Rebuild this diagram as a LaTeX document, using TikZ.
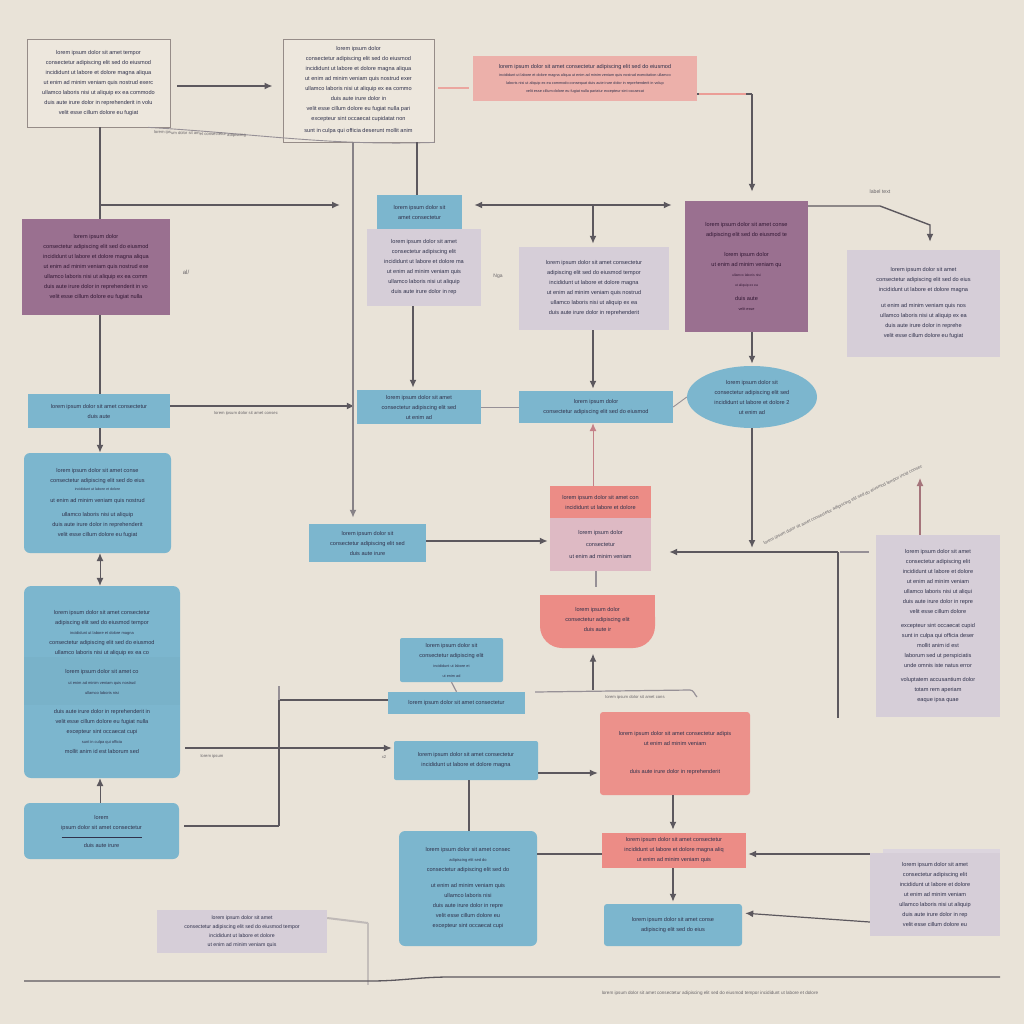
\documentclass[tikz,border=0pt]{standalone}
\usepackage{fontspec}
\setmainfont{Liberation Sans}
\usetikzlibrary{arrows.meta,shapes.geometric}
\definecolor{bgc}{RGB}{233,227,216}
\definecolor{bluec}{RGB}{124,182,206}
\definecolor{mauvec}{RGB}{154,112,144}
\definecolor{lavc}{RGB}{214,206,216}
\definecolor{pinkc}{RGB}{236,176,170}
\definecolor{salc}{RGB}{236,140,134}
\definecolor{paperc}{RGB}{237,231,221}
\definecolor{bordc}{RGB}{150,140,136}
\definecolor{txtc}{RGB}{48,50,76}
\definecolor{linec}{RGB}{92,88,94}
\definecolor{lightl}{RGB}{150,144,150}
\definecolor{redl}{RGB}{196,128,136}
\tikzset{
  box/.style={inner sep=2pt, align=center, text=txtc, font=\fontsize{5.6}{10}\selectfont},
  paperbox/.style={box, fill=paperc, draw=bordc, line width=0.8pt},
  bluebox/.style={box, fill=bluec},
  rbluebox/.style={box, fill=bluec, rounded corners=6pt},
  mauvebox/.style={box, fill=mauvec, text={rgb,255:red,50;green,24;blue,52}},
  lavbox/.style={box, fill=lavc},
  pinkbox/.style={box, fill=pinkc},
  salbox/.style={box, fill=salc},
  conn/.style={draw=linec, line width=1.6pt},
  thinl/.style={draw=lightl, line width=0.9pt},
  arr/.style={conn, -{Latex[length=8pt,width=7pt]}},
  darr/.style={conn, {Latex[length=8pt,width=7pt]}-{Latex[length=8pt,width=7pt]}},
  lbl/.style={inner sep=0pt, text=lightl!70!black, font=\fontsize{4.2}{6}\selectfont},
}
\begin{document}
\begin{tikzpicture}[x=1pt,y=-1pt]
\fill[bgc] (0,0) rectangle (1024,1024);
\useasboundingbox (0,0) rectangle (1024,1024);

% ---------- nodes ----------
\node[paperbox, minimum width=143, minimum height=88] (A) at (98.5,83)
 {lorem ipsum dolor sit amet tempor\\consectetur adipiscing elit sed do eiusmod\\incididunt ut labore et dolore magna aliqua\\ut enim ad minim veniam quis nostrud exerc\\ullamco laboris nisi ut aliquip ex ea commodo\\duis aute irure dolor in reprehenderit in volu\\velit esse cillum dolore eu fugiat};
\node[paperbox, minimum width=151, minimum height=103] (B) at (358.5,90.5)
 {lorem ipsum dolor\\consectetur adipiscing elit sed do eiusmod\\incididunt ut labore et dolore magna aliqua\\ut enim ad minim veniam quis nostrud exer\\ullamco laboris nisi ut aliquip ex ea commo\\duis aute irure dolor in\\velit esse cillum dolore eu fugiat nulla pari\\excepteur sint occaecat cupidatat non\\[2pt]sunt in culpa qui officia deserunt mollit anim};
\node[pinkbox, minimum width=224, minimum height=45] (C) at (585,78.5)
 {lorem ipsum dolor sit amet consectetur adipiscing elit sed do eiusmod\\[-2pt]{\fontsize{3.8}{6}\selectfont incididunt ut labore et dolore magna aliqua ut enim ad minim veniam quis nostrud exercitation ullamco}\\[-2pt]{\fontsize{3.8}{6}\selectfont laboris nisi ut aliquip ex ea commodo consequat duis aute irure dolor in reprehenderit in volup}\\[-2pt]{\fontsize{3.8}{6}\selectfont velit esse cillum dolore eu fugiat nulla pariatur excepteur sint occaecat}};
\node[mauvebox, minimum width=148, minimum height=96] (D) at (96,267)
 {lorem ipsum dolor\\consectetur adipiscing elit sed do eiusmod\\incididunt ut labore et dolore magna aliqua\\ut enim ad minim veniam quis nostrud exe\\ullamco laboris nisi ut aliquip ex ea comm\\duis aute irure dolor in reprehenderit in vo\\velit esse cillum dolore eu fugiat nulla};
\node[lavbox, minimum width=114, minimum height=77] (E2) at (424,267.5)
 {lorem ipsum dolor sit amet\\consectetur adipiscing elit\\incididunt ut labore et dolore ma\\ut enim ad minim veniam quis\\ullamco laboris nisi ut aliquip\\duis aute irure dolor in rep};
\node[bluebox, minimum width=85, minimum height=34] (E1) at (419.5,212)
 {lorem ipsum dolor sit\\amet consectetur};
\node[lavbox, minimum width=150, minimum height=83] (F) at (594,288.5)
 {lorem ipsum dolor sit amet consectetur\\adipiscing elit sed do eiusmod tempor\\incididunt ut labore et dolore magna\\ut enim ad minim veniam quis nostrud\\ullamco laboris nisi ut aliquip ex ea\\duis aute irure dolor in reprehenderit};
\node[mauvebox, minimum width=123, minimum height=131] (G) at (746.5,266.5)
 {lorem ipsum dolor sit amet conse\\adipiscing elit sed do eiusmod te\\[10pt]lorem ipsum dolor\\ut enim ad minim veniam qu\\{\fontsize{3.4}{5}\selectfont ullamco laboris nisi}\\{\fontsize{3.4}{5}\selectfont ut aliquip ex ea}\\[4pt]duis aute\\{\fontsize{3.8}{6}\selectfont velit esse}};
\node[lavbox, minimum width=153, minimum height=107] (H) at (923.5,303.5)
 {lorem ipsum dolor sit amet\\consectetur adipiscing elit sed do eius\\incididunt ut labore et dolore magna\\[6pt]ut enim ad minim veniam quis nos\\ullamco laboris nisi ut aliquip ex ea\\duis aute irure dolor in reprehe\\velit esse cillum dolore eu fugiat};
\node[ellipse, box, fill=bluec, minimum width=130, minimum height=62, inner sep=0pt] (I) at (752,397)
 {lorem ipsum dolor sit\\consectetur adipiscing elit sed\\incididunt ut labore et dolore 2\\ut enim ad};
\node[bluebox, minimum width=142, minimum height=34] (J) at (99,411)
 {lorem ipsum dolor sit amet consectetur\\duis aute};
\node[bluebox, minimum width=124, minimum height=34] (K) at (419,407)
 {lorem ipsum dolor sit amet\\consectetur adipiscing elit sed\\ut enim ad};
\node[bluebox, minimum width=154, minimum height=32] (L) at (596,407)
 {lorem ipsum dolor\\consectetur adipiscing elit sed do eiusmod};
\node[rbluebox, minimum width=147, minimum height=100] (M) at (97.5,503)
 {lorem ipsum dolor sit amet conse\\consectetur adipiscing elit sed do eius\\[-2pt]{\fontsize{3.6}{5}\selectfont incididunt ut labore et dolore}\\[2pt]ut enim ad minim veniam quis nostrud\\[4pt]ullamco laboris nisi ut aliquip\\duis aute irure dolor in reprehenderit\\velit esse cillum dolore eu fugiat};
\node[bluebox, minimum width=117, minimum height=38] (N) at (367.5,543)
 {lorem ipsum dolor sit\\consectetur adipiscing elit sed\\duis aute irure};
% O (two parts)
\node[salbox, minimum width=101, minimum height=32] (Ot) at (600.5,502)
 {lorem ipsum dolor sit amet con\\incididunt ut labore et dolore};
\node[box, fill={rgb,255:red,222;green,186;blue,196}, minimum width=101, minimum height=53] (Ob) at (600.5,544.5)
 {lorem ipsum dolor\\[2pt]consectetur\\[2pt]ut enim ad minim veniam};
% P (rounded bottom)
\fill[salc, rounded corners=22pt] (540,595) rectangle (655,648);
\fill[salc] (540,595) rectangle (655,620);
\node[box, minimum width=115, minimum height=53] (P) at (597.5,619)
 {lorem ipsum dolor\\consectetur adipiscing elit\\duis aute ir};
\node[lavbox, minimum width=124, minimum height=182] (Q) at (938,626)
 {lorem ipsum dolor sit amet\\consectetur adipiscing elit\\incididunt ut labore et dolore\\ut enim ad minim veniam\\ullamco laboris nisi ut aliqui\\duis aute irure dolor in repre\\velit esse cillum dolore\\[4pt]excepteur sint occaecat cupid\\sunt in culpa qui officia deser\\mollit anim id est\\laborum sed ut perspiciatis\\unde omnis iste natus error\\[4pt]voluptatem accusantium dolor\\totam rem aperiam\\eaque ipsa quae};
\node[bluebox, rounded corners=2pt, minimum width=103, minimum height=44] (R) at (451.5,660)
 {lorem ipsum dolor sit\\consectetur adipiscing elit\\{\fontsize{3.8}{6}\selectfont incididunt ut labore et}\\{\fontsize{3.8}{6}\selectfont ut enim ad}};
\node[bluebox, minimum width=137, minimum height=22] (S) at (456.5,703)
 {lorem ipsum dolor sit amet consectetur};
% T tall box with bands
\fill[bluec, rounded corners=7pt] (24,586) rectangle (180,778);
\fill[bluec!92!black, opacity=0.25] (24,657) rectangle (180,705);
\node[box, minimum width=156, minimum height=192] (T) at (102,682)
 {lorem ipsum dolor sit amet consectetur\\adipiscing elit sed do eiusmod tempor\\{\fontsize{4}{6}\selectfont incididunt ut labore et dolore magna}\\consectetur adipiscing elit sed do eiusmod\\ullamco laboris nisi ut aliquip ex ea co\\[9pt]lorem ipsum dolor sit amet co\\[1pt]{\fontsize{4}{6}\selectfont ut enim ad minim veniam quis nostrud}\\{\fontsize{4}{6}\selectfont ullamco laboris nisi}\\[9pt]duis aute irure dolor in reprehenderit in\\velit esse cillum dolore eu fugiat nulla\\excepteur sint occaecat cupi\\{\fontsize{4}{6}\selectfont sunt in culpa qui officia}\\mollit anim id est laborum sed};
\node[bluebox, rounded corners=2pt, minimum width=144, minimum height=39] (U) at (466,760.5)
 {lorem ipsum dolor sit amet consectetur\\incididunt ut labore et dolore magna};
\node[box, fill=salc!85!pinkc, rounded corners=3pt, minimum width=150, minimum height=83] (V) at (675,753.5)
 {lorem ipsum dolor sit amet consectetur adipis\\ut enim ad minim veniam\\[18pt]duis aute irure dolor in reprehenderit};
\node[rbluebox, minimum width=155, minimum height=56] (W) at (101.5,831)
 {lorem\\ipsum dolor sit amet consectetur\\[-2pt]{\fontsize{3.4}{5}\selectfont\rule{80pt}{0.4pt}}\\duis aute irure};
\node[rbluebox, minimum width=138, minimum height=115] (X) at (468,888.5)
 {lorem ipsum dolor sit amet consec\\{\fontsize{4}{6}\selectfont adipiscing elit sed do}\\consectetur adipiscing elit sed do\\[6pt]ut enim ad minim veniam quis\\ullamco laboris nisi\\duis aute irure dolor in repre\\velit esse cillum dolore eu\\excepteur sint occaecat cupi};
\node[salbox, minimum width=144, minimum height=35] (Y) at (674,850.5)
 {lorem ipsum dolor sit amet consectetur\\incididunt ut labore et dolore magna aliq\\ut enim ad minim veniam quis};
\node[bluebox, rounded corners=3pt, minimum width=138, minimum height=42] (Z) at (673,925)
 {lorem ipsum dolor sit amet conse\\adipiscing elit sed do eius};
\fill[lavc!85!white] (883,849) rectangle (1000,932);
\node[lavbox, minimum width=130, minimum height=83] (AA) at (935,894.5)
 {lorem ipsum dolor sit amet\\consectetur adipiscing elit\\incididunt ut labore et dolore\\ut enim ad minim veniam\\ullamco laboris nisi ut aliquip\\duis aute irure dolor in rep\\velit esse cillum dolore eu};
\node[lavbox, minimum width=170, minimum height=43, font=\fontsize{5.2}{9}\selectfont] (BB) at (242,931.5)
 {lorem ipsum dolor sit amet\\consectetur adipiscing elit sed do eiusmod tempor\\incididunt ut labore et dolore\\ut enim ad minim veniam quis};

% ---------- coordinates ----------
\coordinate (h1) at (100,205);
\coordinate (h2) at (340,205);
\coordinate (d1) at (593,205);
\coordinate (g1) at (880,206);
\coordinate (g2) at (930,225);
\coordinate (c1) at (752,94);
\coordinate (i1) at (752,548);
\coordinate (k1) at (838,552);
\coordinate (k2) at (838,718);
\coordinate (q1) at (920,478);
\coordinate (s1) at (593,690);
\coordinate (s2) at (690,690);
\coordinate (v1) at (279,700);
\coordinate (v2) at (279,826);
\coordinate (b1) at (24,981);
\coordinate (b2) at (1000,977);
\coordinate (bb1) at (368,923);

% ---------- connectors ----------
\draw[arr, shorten <=7pt, shorten >=10pt] (A.east|-0,86) -- (B.west|-0,86);
\draw[thinl] ([xshift=-22pt]A.south east) .. controls (260,134) and (330,146) .. (B.south east);
\node[lbl, rotate=-2] (la) at (200,134) {lorem ipsum dolor sit amet consectetur adipiscing};
\draw[conn] (A.south-|h1) -- (D.north-|h1);
\draw[arr] (h1) -- (h2);
\draw[conn] (D.south-|h1) -- (J.north-|h1);
\draw[arr] (J.south-|h1) -- (M.north-|h1);
\draw[darr, line width=1pt] (M.south-|h1) -- (T.north-|h1);
\draw[arr, line width=1pt] (W.north-|h1) -- (T.south-|h1);
\draw[arr, shorten >=2pt] (J.east|-0,406) -- (K.west|-0,406);
\node[lbl] (lj) at (246,413) {lorem ipsum dolor sit amet consec};
\draw[arr, draw=lightl!90!black, line width=2.6pt, shorten >=6pt] (B.south-|353,0) -- (N.north-|353,0);
\draw[conn] (B.south-|417,0) -- (E1.north-|417,0);
\draw[arr, shorten >=2pt] (E2.south-|413,0) -- (K.north-|413,0);
\draw[darr, shorten <=12pt, shorten >=13pt] (E1.east|-d1) -- (G.west|-d1);
\draw[arr, shorten >=3pt] (d1) -- (F.north-|d1);
\draw[arr, shorten >=2pt] (F.south-|d1) -- (L.north-|d1);
\draw[arr, draw=redl, line width=1pt] (Ot.north-|d1) -- (L.south-|d1);
\draw[thinl] (K.east) -- (L.west);
\draw[thinl] (L.east) -- (I.west);
\draw[conn] (C.east|-c1) -- (c1);
\draw[draw=salc!80!bgc, line width=1.8pt] ([xshift=2pt]C.east|-c1) -- ([xshift=-6pt]c1);
\draw[arr, shorten >=9pt] (c1) -- (G.north-|c1);
\draw[draw=salc!70!bgc, line width=1.6pt, shorten <=4pt, shorten >=4pt] (B.east|-0,88) -- (C.west|-0,88);
\draw[arr, line width=1.4pt, shorten >=8pt] (G.east|-g1) -- (g1) -- (g2) -- (H.north-|g2);
\node[lbl, font=\fontsize{5.2}{6}\selectfont] (lg) at (880,192) {label text};
\draw[arr, shorten >=2pt] (G.south-|c1) -- (I.north-|c1);
\draw[arr] (I.south) -- (i1);
\draw[arr, shorten >=18pt] (k1) -- (Ob.east|-k1);
\draw[conn] (k1) -- (k2);
\draw[thinl, line width=1.4pt, shorten >=2pt, shorten <=7pt] (Q.west|-k1) -- (k1);
\draw[arr, draw=redl!70!linec, line width=1.2pt] (Q.north-|q1) -- (q1);
\node[lbl, rotate=26, font=\fontsize{4.4}{6}\selectfont] (ld) at (843,505) {lorem ipsum dolor sit amet consectetur adipiscing elit sed do eiusmod tempor incid consec};
\draw[arr, shorten >=2pt] (N.east|-0,541) -- (Ob.west|-0,541);
\draw[thinl, line width=1.2pt] (Ob.south-|596,0) -- ([yshift=5pt]P.north-|596,0);
\draw[thinl, line width=1.2pt] (S.east|-0,692) ++(10,0) -- (s2) to[out=0,in=135] (697,697);
\draw[arr, line width=1.2pt, shorten >=8pt] (s1) -- (P.south-|s1);
\node[lbl] (ls) at (635,697) {lorem ipsum dolor sit amet cons};
\draw[thinl, line width=1.2pt] (R.south) -- (S.north);
\draw[conn, line width=1.4pt] (S.west|-v1) -- (v1) -- (v2);
\draw[thinl, line width=1.2pt] (v1) -- ++(0,-14);
\draw[conn, line width=1.4pt, shorten <=5pt] (W.east|-v2) -- (v2);
\draw[arr, line width=1.4pt, shorten <=5pt, shorten >=2pt] (T.east|-0,748) -- (U.west|-0,748);
\node[lbl] (lt) at (212,756) {lorem ipsum};
\node[lbl] (lu) at (384,757) {x2};
\draw[arr, line width=1.2pt, shorten >=2pt] (U.east|-0,773) -- (V.west|-0,773);
\draw[conn] (U.south-|469,0) -- (X.north-|469,0);
\draw[arr, line width=1.4pt, shorten >=3pt] (V.south-|673,0) -- (Y.north-|673,0);
\draw[conn, line width=1.2pt] (X.east|-0,854) -- (Y.west|-0,854);
\draw[arr, line width=1.4pt, shorten >=2pt] (AA.west|-0,854) -- (Y.east|-0,854);
\draw[arr, line width=1.4pt, shorten >=2pt] (Y.south-|673,0) -- (Z.north-|673,0);
\draw[arr, line width=1.2pt, shorten >=3pt] (AA.west|-0,922) -- (Z.east|-0,913);
\draw[thinl, draw=lightl!50!bgc, line width=2pt] (BB.east|-0,918) -- (bb1);
\draw[thinl, draw=lightl!45!bgc, line width=2pt] (bb1) -- (368,985);
\draw[conn, line width=1.3pt] (b1) -- (370,981) to[out=0,in=180] (450,977) -- (b2);
\node[lbl, font=\fontsize{4.6}{6}\selectfont] (cap) at (710,993) {lorem ipsum dolor sit amet consectetur adipiscing elit sed do eiusmod tempor incididunt ut labore et dolore};
\node[lbl, font=\fontsize{6}{7}\selectfont] (al) at (186,272) {al/};
\node[lbl, font=\fontsize{5}{7}\selectfont] (ng) at (498,276) {Nga};
\end{tikzpicture}
\end{document}
